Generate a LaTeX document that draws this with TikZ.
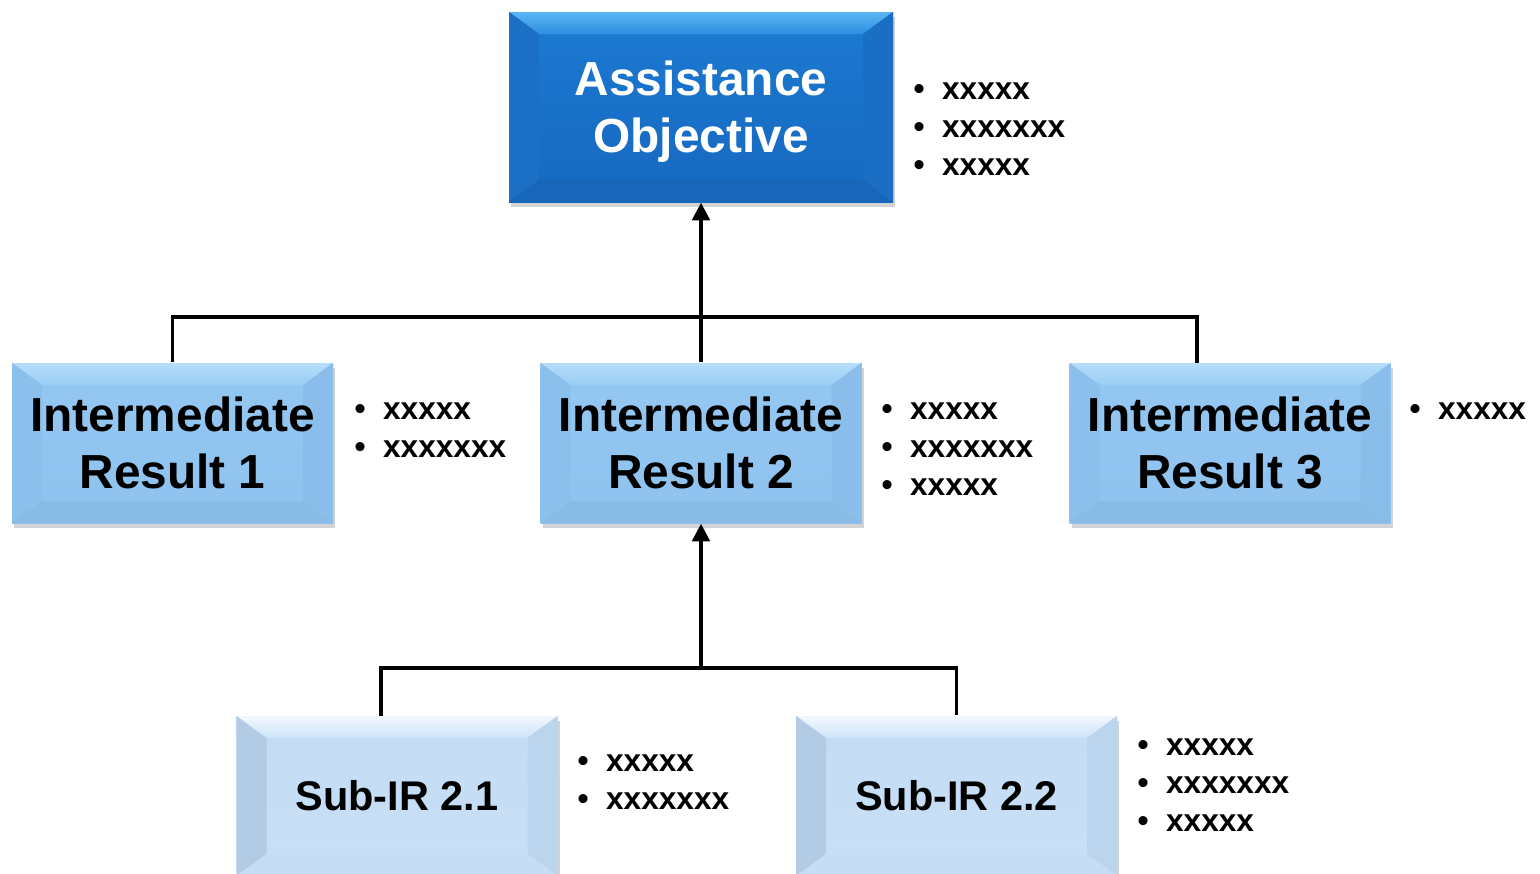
\documentclass[tikz,border=0pt]{standalone}
\usepackage{fontspec}
\setmainfont{Liberation Sans}
\usetikzlibrary{arrows.meta,shadows}
\definecolor{aoT}{HTML}{1D7AD2}\definecolor{aoB}{HTML}{1668BF}
\definecolor{aobT}{HTML}{5AB6F6}\definecolor{aobB}{HTML}{2E8EE0}
\definecolor{aoL}{HTML}{1B70C6}\definecolor{aoR}{HTML}{1A6EC3}\definecolor{aoD}{HTML}{1866B9}
\definecolor{irT}{HTML}{94C8F3}\definecolor{irB}{HTML}{8FC2EE}
\definecolor{irbT}{HTML}{B5DDFB}\definecolor{irbB}{HTML}{9ACDF5}
\definecolor{irL}{HTML}{8CC0EC}\definecolor{irR}{HTML}{8ABDE9}\definecolor{irD}{HTML}{89BBE7}
\definecolor{sbT}{HTML}{C3DCF4}\definecolor{sbB}{HTML}{C9E0F6}
\definecolor{sbbT}{HTML}{F2F8FE}\definecolor{sbbB}{HTML}{CDE4F8}
\definecolor{sbL}{HTML}{B2CCE6}\definecolor{sbR}{HTML}{BBD5EF}\definecolor{sbD}{HTML}{C6DDF3}
\newcommand{\itm}[1]{\makebox[0.9em][l]{•}#1}
\def\bevx{0.3}\def\bevy{0.22}
\tikzset{
 bevel/.style n args={5}{path picture={
  \path (path picture bounding box.north west) coordinate (pnw)
        (path picture bounding box.south east) coordinate (pse);
  \shade[top color=#1,bottom color=#2] (pnw) -- (pnw -| pse) -- ([shift={(-\bevx,-\bevy)}]pnw -| pse) -- ([shift={(\bevx,-\bevy)}]pnw) -- cycle;
  \fill[#3] (pnw) -- ([shift={(\bevx,-\bevy)}]pnw) -- ([shift={(\bevx,\bevy)}]pnw |- pse) -- (pnw |- pse) -- cycle;
  \fill[#4] (pnw -| pse) -- ([shift={(-\bevx,-\bevy)}]pnw -| pse) -- ([shift={(-\bevx,\bevy)}]pse) -- (pse) -- cycle;
  \fill[#5] (pnw |- pse) -- ([shift={(\bevx,\bevy)}]pnw |- pse) -- ([shift={(-\bevx,\bevy)}]pse) -- (pse) -- cycle;
 }},
 box/.style={minimum width=3.21cm, minimum height=1.60cm, inner sep=0pt, align=center,
  font=\fontsize{13.6}{16.2}\selectfont\bfseries,
  drop shadow={opacity=0.35,shadow xshift=0.02,shadow yshift=-0.05}},
 aobox/.style={box, minimum width=3.84cm, minimum height=1.90cm, text=white, text depth=0pt,
  top color=aoT, bottom color=aoB, bevel={aobT}{aobB}{aoL}{aoR}{aoD}},
 irbox/.style={box, top color=irT, bottom color=irB, bevel={irbT}{irbB}{irL}{irR}{irD}},
 subbox/.style={box, font=\fontsize{11.8}{14}\selectfont\bfseries,
  top color=sbT, bottom color=sbB, bevel={sbbT}{sbbB}{sbL}{sbR}{sbD}},
 list/.style={anchor=west, inner sep=0pt, align=left, font=\fontsize{9}{10.8}\selectfont\bfseries},
 link/.style={line width=0.9pt},
}
\begin{document}
\begin{tikzpicture}[>={Triangle[width=5pt,length=5pt]}]
 \useasboundingbox (0,0) rectangle (15.40,-8.74);
 % boxes
 \node[aobox] (ao) at (7.01,-1.07) {Assistance\\Objective};
 \node[irbox] (ir1) at (1.725,-4.43) {Intermediate\\Result 1};
 \node[irbox] (ir2) at (7.01,-4.43) {Intermediate\\Result 2};
 \node[irbox] (ir3) at (12.30,-4.43) {Intermediate\\Result 3};
 \node[subbox] (sub1) at (3.97,-7.96) {Sub-IR 2.1};
 \node[subbox] (sub2) at (9.565,-7.96) {Sub-IR 2.2};
 % bullet lists
 \node[list] (aolist) at (9.13,-1.29) {\itm{xxxxx}\\\itm{xxxxxxx}\\\itm{xxxxx}};
 \node[list] (ir1list) at (3.54,-4.30) {\itm{xxxxx}\\\itm{xxxxxxx}};
 \node[list] (ir2list) at (8.81,-4.49) {\itm{xxxxx}\\\itm{xxxxxxx}\\\itm{xxxxx}};
 \node[list] (ir3list) at (14.09,-4.11) {\itm{xxxxx}};
 \node[list] (sub1list) at (5.77,-7.82) {\itm{xxxxx}\\\itm{xxxxxxx}};
 \node[list] (sub2list) at (11.37,-7.85) {\itm{xxxxx}\\\itm{xxxxxxx}\\\itm{xxxxx}};
 % connectors
 \coordinate (j1) at (7.01,-3.17);
 \coordinate (c3) at (11.97,-3.63);
 \coordinate (j2) at (7.01,-6.68);
 \coordinate (c4) at (3.81,-7.16);
 \draw[link,->] (ir2.north) -- (ao.south);
 \draw[link] (ir1.north) |- (j1) -| (c3);
 \draw[link,->] (j2) -- (ir2.south);
 \draw[link] (c4) |- (j2) -| (sub2.north);
\end{tikzpicture}
\end{document}
